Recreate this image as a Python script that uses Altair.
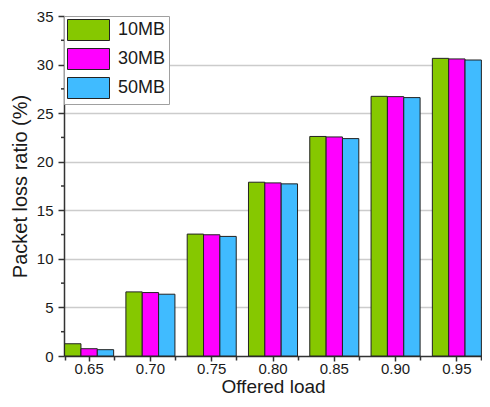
import altair as alt
import pandas as pd

loads = ["0.65", "0.70", "0.75", "0.80", "0.85", "0.90", "0.95"]
sizes = ["10MB", "30MB", "50MB"]
loss_10 = [1.26, 6.60, 12.55, 17.89, 22.60, 26.73, 30.64]
loss_30 = [0.75, 6.53, 12.48, 17.82, 22.55, 26.70, 30.58]
loss_50 = [0.65, 6.36, 12.31, 17.72, 22.38, 26.60, 30.47]
y_major = [0, 5, 10, 15, 20, 25, 30, 35]
y_minor = [2.5, 7.5, 12.5, 17.5, 22.5, 27.5, 32.5]
colors = ["#86c800", "#ff00ff", "#40bbff"]

rows = []
for s, vals in zip(sizes, [loss_10, loss_30, loss_50]):
    for l, v in zip(loads, vals):
        rows.append({"load": l, "size": s, "value": v})
df = pd.DataFrame(rows)
ydf = pd.DataFrame({"value": y_minor})

FONT = "Liberation Sans"
AX = "#333333"
TXT = "#1a1a1a"

xscale = alt.Scale(domain=loads, paddingInner=0.2, paddingOuter=0.01)
yscale = alt.Scale(domain=[0, 35], nice=False)

y_axis = alt.Axis(
    title="Packet loss ratio (%)", values=y_major,
    tickSize=6, tickColor=AX, tickWidth=1.5, labelPadding=5,
    domainColor=AX, domainWidth=1.5,
    labelFont=FONT, labelFontSize=15, labelColor=TXT,
    titleFont=FONT, titleFontSize=20, titleFontWeight="normal", titleColor=TXT,
    titleX=-38, titleBaseline="alphabetic",
    grid=True, gridColor="#cccccc", gridWidth=1.5,
    gridOpacity={"condition": {"test": "datum.value >= 35 || datum.value <= 0", "value": 0}, "value": 1},
)

bars = alt.Chart(df).mark_bar(stroke="#222222", strokeWidth=1).encode(
    x=alt.X(
        "load:N", scale=xscale, sort=loads,
        axis=alt.Axis(
            title="Offered load", orient="bottom", labelAngle=0,
            tickSize=5, tickColor=AX, tickWidth=1.5, labelPadding=0,
            domainColor=AX, domainWidth=1.5,
            labelFont=FONT, labelFontSize=15, labelColor=TXT,
            titleFont=FONT, titleFontSize=19, titleFontWeight="normal", titleColor=TXT,
            titleY=36, titleBaseline="alphabetic", grid=False,
        ),
    ),
    xOffset=alt.XOffset("size:N", sort=sizes, scale=alt.Scale(paddingInner=0, paddingOuter=0)),
    y=alt.Y("value:Q", scale=yscale, axis=y_axis),
    color=alt.Color(
        "size:N", scale=alt.Scale(domain=sizes, range=colors),
        legend=alt.Legend(
            title=None, orient="none", legendX=0, legendY=0, direction="vertical",
            symbolType="M-1,-1H3V1H-1Z", symbolSize=441,
            symbolStrokeColor="#222222", symbolStrokeWidth=1, symbolOpacity=1,
            labelFont=FONT, labelFontSize=18, labelColor=TXT, labelOffset=29,
            rowPadding=3, padding=3, strokeColor="#a0a0a0", fillColor="white",
            cornerRadius=0, offset=0,
        ),
    ),
)

xminor = alt.Chart(df).mark_rule(opacity=0).encode(
    x=alt.X(
        "load:N", scale=xscale, sort=loads,
        axis=alt.Axis(
            orient="bottom", tickBand="extent", labels=False, domain=False,
            tickSize=4, tickColor=AX, tickWidth=1.5, title=None, grid=False,
        ),
    ),
)

yminor = alt.Chart(ydf).mark_rule(color=AX, strokeWidth=1.5).encode(
    y=alt.Y("value:Q", scale=yscale, axis=y_axis),
    x=alt.value(-3),
    x2=alt.value(0),
)

chart = alt.layer(bars, xminor, yminor).resolve_axis(x="independent").properties(
    width=418,
    height=340,
    autosize=alt.AutoSizeParams(type="none"),
    padding={"left": 56, "top": 8, "right": 0, "bottom": 39},
).configure_view(stroke=None)

chart.save("out.html", embed_options={"renderer": "svg", "actions": False})
